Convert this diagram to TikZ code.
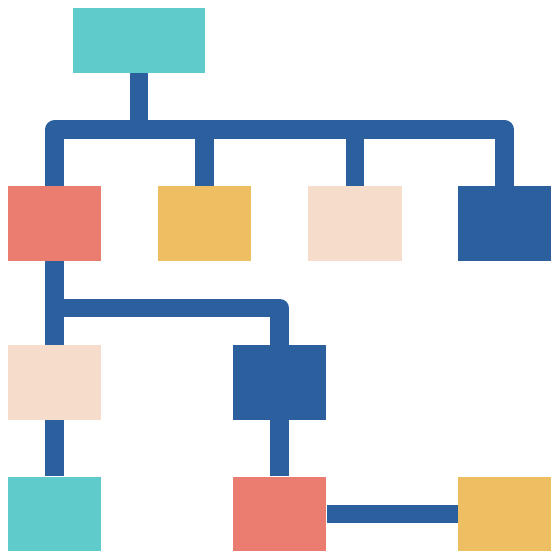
\documentclass[tikz,border=0pt]{standalone}
\definecolor{cteal}{HTML}{60CBCB}
\definecolor{cred}{HTML}{EA7C70}
\definecolor{cyel}{HTML}{EEBE62}
\definecolor{cpeach}{HTML}{F5DCCB}
\definecolor{cblue}{HTML}{2B5F9E}
\begin{document}
\begin{tikzpicture}[x=1pt,y=-1pt,
  box/.style={draw=none,inner sep=0pt,minimum width=93.3pt,minimum height=74.7pt},
  conn/.style={draw=cblue,line width=18.7pt,line join=round}]
\useasboundingbox (0,0) rectangle (560,560);
\node[box,fill=cteal,minimum width=131.4pt,minimum height=64.7pt] (top) at (139,40.35) {};
\node[box,fill=cred] (r1) at (54.65,223.35) {};
\node[box,fill=cyel] (y1) at (204.65,223.35) {};
\node[box,fill=cpeach] (p1) at (355,223.35) {};
\node[box,fill=cblue] (b1) at (504.65,223.35) {};
\node[box,fill=cpeach] (p2) at (54.65,382.65) {};
\node[box,fill=cblue] (b2) at (279.7,382.65) {};
\node[box,fill=cteal] (t3) at (54.65,514) {};
\node[box,fill=cred] (r3) at (279.7,514) {};
\node[box,fill=cyel] (y3) at (504.65,514) {};
\coordinate (bus) at (139,129.35);
\coordinate (bus2) at (139,308);
\draw[conn] (r1.north) -- (r1.north |- bus) -- (b1.north |- bus) -- (b1.north);
\draw[conn] (top.south) -- (bus);
\draw[conn] (y1.north) -- (y1.north |- bus);
\draw[conn] (p1.north) -- (p1.north |- bus);
\draw[conn] (r1.south) -- (p2.north);
\draw[conn] (r1.south |- bus2) -- (b2.north |- bus2) -- (b2.north);
\draw[conn] (p2.south) -- (t3.north);
\draw[conn] (b2.south) -- (r3.north);
\draw[conn] (r3.east) -- (y3.west);
\end{tikzpicture}
\end{document}
